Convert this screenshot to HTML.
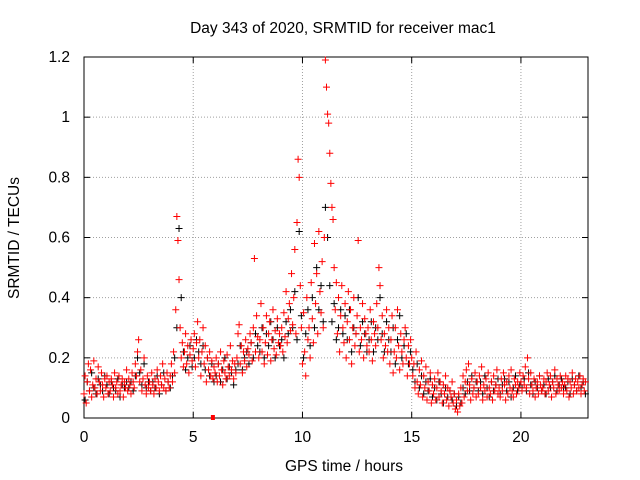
<!DOCTYPE html>
<html><head><meta charset="utf-8"><style>
body{margin:0;background:#fff;}
svg{display:block;font-family:"Liberation Sans",sans-serif;}
</style></head><body>
<svg id="chart" width="640" height="480">
<text x="343" y="33" text-anchor="middle" font-size="15.5">Day 343 of 2020, SRMTID for receiver mac1</text>
<text x="344" y="471" text-anchor="middle" font-size="15.5">GPS time / hours</text>
<text transform="translate(19,238) rotate(-90)" text-anchor="middle" font-size="15.5">SRMTID / TECUs</text>
<g id="grid"></g>
<g id="axes"></g>
<g id="black"></g>
<g id="red"></g>
</svg>
<script>
const xTicks=[0,5,10,15,20];
const yTicks=[0,0.2,0.4,0.6,0.8,1,1.2];
const yTickLabels=["0","0.2","0.4","0.6","0.8","1","1.2"];
const redStep=0.05;
const redValues=[
.08,.14,.05,.12,.18,.09,.16,.07,.11,.19,.10,.13,.08,.17,.12,.09,.15,.11,.07,.13,
.10,.14,.08,.12,.09,.13,.11,.07,.15,.10,.12,.08,.14,.09,.11,.13,.07,.12,.10,.16,
.09,.13,.11,.08,.15,.12,.10,.18,.14,.22,.26,.12,.16,.09,.13,.20,.11,.08,.14,.10,
.12,.09,.15,.11,.08,.13,.10,.16,.12,.09,.14,.11,.18,.10,.13,.09,.15,.12,.10,.14,
.18,.12,.22,.15,.36,.67,.59,.46,.30,.20,.25,.17,.22,.28,.18,.24,.15,.21,.26,.19,
.23,.28,.17,.25,.32,.20,.26,.14,.22,.30,.18,.24,.12,.20,.16,.22,.14,.19,.13,.17,
.15,.20,.12,.18,.14,.22,.16,.11,.19,.15,.13,.21,.17,.14,.24,.16,.19,.13,.18,.15,
.20,.28,.31,.18,.24,.15,.22,.19,.26,.17,.23,.21,.28,.25,.19,.30,.53,.22,.34,.27,
.20,.26,.38,.22,.30,.18,.25,.34,.21,.28,.32,.19,.26,.36,.23,.29,.21,.33,.25,.28,
.24,.30,.22,.35,.27,.42,.25,.33,.38,.29,.48,.31,.40,.56,.28,.65,.86,.80,.44,.30,
.18,.35,.22,.14,.40,.26,.30,.20,.45,.33,.25,.58,.38,.48,.28,.62,.42,.35,.52,.30,
.60,1.19,1.10,1.01,.98,.88,.78,.70,.66,.50,.36,.45,.28,.40,.22,.34,.44,.30,.25,.38,
.20,.32,.42,.26,.36,.18,.30,.40,.24,.28,.34,.59,.22,.30,.26,.38,.20,.33,.28,.24,
.30,.22,.36,.26,.19,.32,.28,.24,.38,.30,.50,.44,.26,.34,.20,.28,.24,.36,.22,.30,
.18,.26,.34,.15,.22,.30,.20,.36,.24,.16,.28,.22,.18,.26,.30,.20,.14,.24,.18,.26,
.20,.14,.18,.10,.22,.12,.08,.16,.11,.19,.07,.14,.10,.17,.06,.12,.09,.15,.05,.11,
.08,.13,.06,.10,.15,.07,.12,.09,.05,.11,.08,.14,.06,.10,.04,.09,.07,.12,.05,.08,
.03,.06,.02,.08,.04,.10,.05,.14,.07,.12,.16,.09,.18,.11,.06,.13,.08,.10,.15,.07,
.12,.08,.14,.10,.17,.06,.11,.09,.13,.07,.15,.10,.08,.12,.06,.14,.09,.11,.16,.08,
.10,.07,.13,.09,.15,.11,.06,.12,.08,.14,.10,.16,.09,.07,.13,.11,.08,.12,.10,.15,
.12,.09,.14,.11,.17,.10,.20,.13,.08,.15,.11,.09,.13,.07,.10,.12,.08,.14,.11,.09,
.10,.13,.08,.12,.15,.09,.11,.14,.07,.12,.10,.16,.08,.13,.11,.09,.14,.10,.12,.08,
.11,.14,.09,.13,.07,.12,.10,.15,.08,.11,.13,.09,.12,.10,.14,.08,.11,.13,.09,.12];
const blackStep=0.1;
const blackValues=[
.06,.12,.09,.15,.10,.08,.13,.11,.09,.14,.11,.08,.12,.10,.09,.13,.07,.11,.10,.12,
.10,.12,.09,.14,.20,.15,.11,.18,.10,.12,.09,.12,.10,.14,.08,.11,.15,.09,.12,.10,
.14,.20,.30,.63,.40,.22,.16,.20,.24,.17,.20,.26,.22,.18,.24,.16,.20,.14,.18,.12,
.14,.18,.12,.16,.20,.13,.17,.15,.11,.16,.18,.24,.16,.20,.22,.18,.25,.20,.28,.24,
.22,.30,.20,.28,.24,.32,.26,.20,.30,.24,.26,.20,.32,.28,.36,.30,.42,.26,.62,.34,
.20,.28,.36,.24,.40,.30,.50,.36,.44,.32,.70,.60,.44,.32,.38,.26,.30,.36,.28,.34,
.26,.36,.22,.30,.28,.40,.24,.32,.28,.22,.26,.32,.22,.30,.26,.40,.28,.22,.32,.26,
.22,.30,.18,.26,.34,.20,.24,.28,.18,.22,.16,.12,.18,.10,.14,.08,.12,.09,.13,.07,
.10,.06,.12,.08,.05,.10,.07,.09,.06,.08,.04,.07,.05,.10,.08,.12,.09,.14,.10,.12,
.09,.12,.08,.14,.10,.07,.12,.09,.11,.13,.08,.11,.13,.09,.12,.07,.10,.14,.09,.11,
.10,.13,.09,.15,.11,.08,.12,.10,.14,.09,.11,.08,.13,.10,.12,.14,.09,.11,.13,.10,
.10,.12,.08,.13,.11,.09,.14,.10,.12,.08];
const outlierX=[5.9];
const outlierY=[0];

const L=84,R=588,T=57,B=418,XMAX=23.07,YMAX=1.2;
const xs=v=>L+v/XMAX*(R-L);
const ys=v=>B-v/YMAX*(B-T);
const NS="http://www.w3.org/2000/svg";
function mk(tag,attrs,parent){const e=document.createElementNS(NS,tag);for(const k in attrs)e.setAttribute(k,attrs[k]);parent.appendChild(e);return e;}
const grid=document.getElementById('grid'),axes=document.getElementById('axes');
xTicks.forEach((t,i)=>{const x=xs(t);
 if(t>0){const g=mk('line',{x1:x,x2:x,y1:T,y2:B,stroke:'#a0a0a0','stroke-dasharray':'1,2'},grid);}
 const a=mk('line',{x1:x,x2:x,y1:B,y2:B-6,stroke:'#000'},axes);
 mk('line',{x1:x,x2:x,y1:T,y2:T+6,stroke:'#000'},axes);
 const tx=mk('text',{x:x,y:B+24,'text-anchor':'middle','font-size':'15.5'},axes);tx.textContent=String(t);
 });
yTicks.forEach((t,i)=>{const y=ys(t);
 if(t>0&&t<YMAX){const g=mk('line',{x1:L,x2:R,y1:y,y2:y,stroke:'#a0a0a0','stroke-dasharray':'1,2'},grid);}
 const a=mk('line',{x1:L,x2:L+6,y1:y,y2:y,stroke:'#000'},axes);
 mk('line',{x1:R,x2:R-6,y1:y,y2:y,stroke:'#000'},axes);
 const tx=mk('text',{x:L-14,y:y+5,'text-anchor':'end','font-size':'15.5'},axes);tx.textContent=yTickLabels[i];
 });
const fr=mk('rect',{x:L,y:T,width:R-L,height:B-T,fill:'none',stroke:'#000'},axes);

function plus(g,x,y,c){const p=mk('path',{d:`M${x-3.5},${y}h7M${x},${y-3.5}v7`,stroke:c,'stroke-width':'1',fill:'none'},g);return p;}
const bg=document.getElementById('black'),rg=document.getElementById('red');
blackValues.forEach((v,i)=>{const p=plus(bg,xs(i*blackStep+0.05),ys(v),'#000');
 
 });
redValues.forEach((v,i)=>{const p=plus(rg,xs(i*redStep),ys(v),'#ff0000');
 
 });
outlierX.forEach((v,i)=>{const r=mk('rect',{x:xs(v)-2,y:ys(outlierY[i])-3,width:4,height:5,fill:'#ff0000'},rg);
 
 });
</script>
</body></html>
